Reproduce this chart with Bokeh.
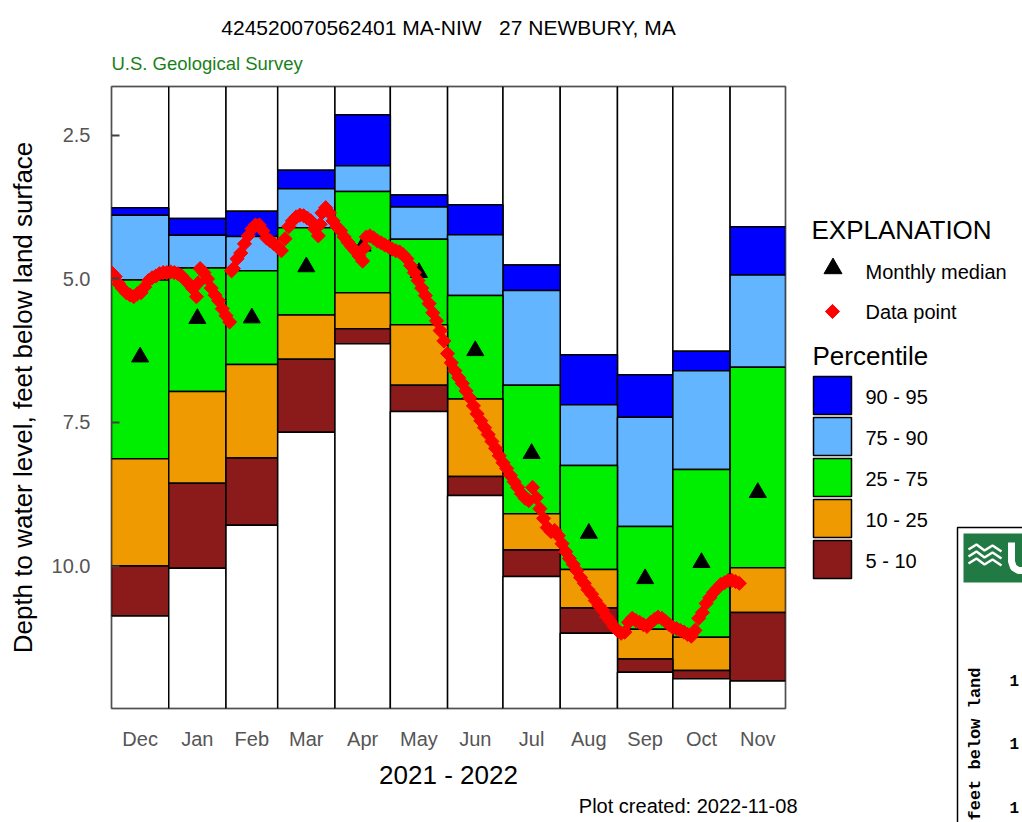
import math
from bokeh.plotting import figure
from bokeh.layouts import row, column
from bokeh.models import (ColumnDataSource, FixedTicker, Range1d, PrintfTickFormatter, Title)
from bokeh.core.properties import value
from bokeh.embed import file_html
from bokeh.resources import INLINE

# ---------------- data ----------------
months = ["Dec", "Jan", "Feb", "Mar", "Apr", "May", "Jun", "Jul", "Aug", "Sep", "Oct", "Nov"]
month_days = [31, 31, 28, 31, 30, 31, 30, 31, 31, 30, 31, 30]

# percentile depths (feet below land surface)
p95 = [3.76, 3.95, 3.82, 3.11, 2.14, 3.54, 3.71, 4.76, 6.32, 6.67, 6.26, 4.09]
p90 = [3.89, 4.24, 4.26, 3.43, 3.03, 3.75, 4.23, 5.20, 7.19, 7.41, 6.60, 4.93]
p75 = [5.02, 4.81, 4.86, 4.11, 3.48, 4.31, 5.29, 6.85, 8.25, 9.31, 8.32, 6.54]
p25 = [8.13, 6.96, 6.49, 5.63, 5.24, 5.80, 7.09, 9.09, 10.06, 11.10, 11.24, 10.03]
p10 = [10.00, 8.56, 8.12, 6.40, 5.87, 6.85, 8.44, 9.72, 10.73, 11.62, 11.82, 10.81]
p5 = [10.87, 10.04, 9.29, 7.67, 6.13, 7.31, 8.77, 10.18, 11.17, 11.85, 11.96, 12.00]
median = [6.36, 5.69, 5.68, 4.79, 4.43, 4.89, 6.25, 8.04, 9.43, 10.22, 9.94, 8.72]

# data points: days since 2021-12-01, depth
pt_day = [0, 2, 4, 6, 8, 10, 12, 14, 16, 18, 20, 22, 24, 26, 28, 30,
          32, 34, 36, 38, 40, 42, 44, 46, 47, 48, 50, 52, 54, 56, 58, 60, 62, 64,
          65, 66, 68, 70, 72, 74, 76, 78, 80, 82, 84, 86, 88,
          90, 92, 94, 96, 98, 100, 102, 104, 106, 108, 110, 112, 113, 114, 116, 118,
          120, 122, 124, 126, 128, 130, 132, 134, 136, 137, 138, 140, 142, 144, 146, 148,
          150, 152, 154, 156, 158, 160, 162, 164, 166, 168, 170, 172, 174, 176, 178, 180,
          182, 184, 186, 188, 190, 192, 194, 196, 198, 200, 202, 204, 206, 208, 210,
          212, 214, 216, 218, 220, 222, 224, 226, 228, 230, 232, 234, 236, 238, 240,
          242, 244, 246, 248, 250, 252, 254, 256, 258, 260, 262, 264, 266, 268, 270, 272,
          274, 276, 278, 280, 282, 284, 286, 288, 290, 292, 294, 296, 298, 300, 302,
          304, 306, 308, 310, 312, 314, 316, 318, 320, 322, 324, 326, 328, 330, 332,
          334, 336, 338, 340]
pt_depth = [4.89, 4.96, 5.09, 5.17, 5.24, 5.28, 5.31, 5.26, 5.24, 5.14, 5.03, 4.98, 4.95, 4.91, 4.89, 4.89,
            4.88, 4.89, 4.91, 4.95, 5.02, 5.09, 5.17, 5.31, 5.07, 4.82, 4.89, 5.00, 5.16, 5.28, 5.38, 5.52, 5.64, 5.75,
            4.86, 4.82, 4.65, 4.55, 4.39, 4.25, 4.13, 4.06, 4.06, 4.16, 4.29, 4.34, 4.39,
            4.44, 4.51, 4.30, 4.09, 3.99, 3.92, 3.89, 3.90, 3.94, 3.99, 4.13, 4.25, 4.05, 3.85, 3.76, 3.85,
            3.99, 4.09, 4.16, 4.27, 4.36, 4.44, 4.51, 4.60, 4.69, 4.46, 4.27, 4.25, 4.29, 4.34, 4.37, 4.41,
            4.44, 4.48, 4.51, 4.53, 4.58, 4.65, 4.77, 4.89, 5.03, 5.16, 5.29, 5.43, 5.59, 5.73, 5.90, 6.08,
            6.30, 6.46, 6.60, 6.72, 6.82, 6.95, 7.07, 7.21, 7.35, 7.47, 7.59, 7.71, 7.83, 7.95, 8.08,
            8.20, 8.30, 8.42, 8.53, 8.63, 8.74, 8.82, 8.86, 8.63, 8.81, 9.00, 9.17, 9.33, 9.40, 9.38,
            9.47, 9.61, 9.75, 9.87, 9.97, 10.08, 10.20, 10.30, 10.41, 10.49, 10.60, 10.69, 10.77, 10.88, 10.96, 11.05,
            11.12, 11.17, 11.15, 10.98, 10.91, 10.95, 10.98, 11.02, 11.05, 10.98, 10.93, 10.89, 10.91, 10.96, 11.02,
            11.07, 11.09, 11.12, 11.15, 11.19, 11.22, 11.12, 10.91, 10.81, 10.65, 10.55, 10.46, 10.39, 10.32, 10.29,
            10.25, 10.25, 10.27, 10.30]

y_ticks = [2.5, 5.0, 7.5, 10.0]
band_labels = ["90 - 95", "75 - 90", "25 - 75", "10 - 25", "5 - 10"]
legend_marker_labels = ["Monthly median", "Data point"]
title_text = "424520070562401 MA-NIW\u00a0\u00a0\u00a027 NEWBURY, MA"

# ---------------- styling ----------------
FONT = "Liberation Sans"
BLUE, LBLUE, GREEN, ORANGE, DRED = "#0000FF", "#63B5FF", "#00EE00", "#EE9A00", "#8B1A1A"
band_colors = [BLUE, LBLUE, GREEN, ORANGE, DRED]
Y_TOP, Y_BOT = 1.65, 12.48
H = 822
FL, FT, FW, FH = 111, 86, 674, 622
MAIN_W = 805
LEG_W = 1022 - MAIN_W

edges = [0]
for d in month_days:
    edges.append(edges[-1] + d)
left, right = edges[:-1], edges[1:]
centers = [(a + b) / 2 for a, b in zip(left, right)]

p = figure(width=MAIN_W, height=H, output_backend="svg", toolbar_location=None,
           x_range=Range1d(0, edges[-1]), y_range=Range1d(Y_BOT, Y_TOP),
           min_border_left=FL, min_border_right=MAIN_W - FL - FW,
           min_border_top=FT, min_border_bottom=H - FT - FH)
p.grid.visible = False
p.outline_line_color = "#808080"
p.outline_line_width = 2
p.background_fill_color = "white"
p.border_fill_color = "white"

src = ColumnDataSource(dict(left=left, right=right, p95=p95, p90=p90, p75=p75,
                            p25=p25, p10=p10, p5=p5,
                            ytop=[Y_TOP] * 12, ybot=[Y_BOT] * 12))
bands = [("ytop", "p95", "white"), ("p95", "p90", BLUE), ("p90", "p75", LBLUE),
         ("p75", "p25", GREEN), ("p25", "p10", ORANGE), ("p10", "p5", DRED),
         ("p5", "ybot", "white")]
for t, b, c in bands:
    p.quad(left="left", right="right", top=t, bottom=b, source=src,
           fill_color=c, line_color="black", line_width=1.5)

p.scatter(x=centers, y=median, marker="triangle", size=17,
          fill_color="black", line_color="black")
p.scatter(x=pt_day, y=pt_depth, marker="square", angle=math.pi / 4, size=10,
          fill_color="#FF0000", line_color="#FF0000")

# y axis
yax = p.yaxis[0]
yax.ticker = FixedTicker(ticks=y_ticks)
yax.formatter = PrintfTickFormatter(format="%.1f")
yax.major_tick_in = 8
yax.major_tick_out = 0
yax.minor_tick_line_color = None
yax.major_tick_line_color = "#404040"
yax.major_tick_line_width = 2
yax.axis_line_color = None
yax.major_label_text_font = FONT
yax.major_label_text_font_size = "20px"
yax.major_label_text_color = "#555555"
yax.major_label_standoff = 21
yax.axis_label = "Depth to water level, feet below land surface"
yax.axis_label_text_font = FONT
yax.axis_label_text_font_size = "26px"
yax.axis_label_text_font_style = "normal"
yax.axis_label_text_color = "black"
yax.axis_label_standoff = 11

# x axis
xax = p.xaxis[0]
xax.ticker = FixedTicker(ticks=centers)
xax.major_label_overrides = {c: m for c, m in zip(centers, months)}
xax.major_tick_line_color = None
xax.minor_tick_line_color = None
xax.axis_line_color = None
xax.major_label_text_font = FONT
xax.major_label_text_font_size = "20px"
xax.major_label_text_color = "#555555"
xax.major_label_standoff = 13
xax.axis_label = "2021 - 2022"
xax.axis_label_text_font = FONT
xax.axis_label_text_font_size = "26px"
xax.axis_label_text_font_style = "normal"
xax.axis_label_text_color = "black"
xax.axis_label_standoff = 7

# titles (added nearest-first)
p.add_layout(Title(text="U.S. Geological Survey", align="left", text_font=FONT,
                   text_font_size="18.5px", text_font_style="normal",
                   text_color="#1A7F1A", standoff=25), "above")
p.add_layout(Title(text=title_text, align="center",
                   text_font=FONT, text_font_size="21px", text_font_style="normal",
                   text_color="black", standoff=0), "above")
p.add_layout(Title(text="Plot created: 2022-11-08", align="right", offset=-12,
                   text_font=FONT, text_font_size="20px", text_font_style="normal",
                   text_color="black", standoff=0), "below")

# ---------------- legend panel (page-pixel coordinates) ----------------
lg = figure(width=LEG_W, height=H, output_backend="svg", toolbar_location=None,
            x_range=Range1d(MAIN_W, 1022), y_range=Range1d(H, 0),
            x_axis_location=None, y_axis_location=None, min_border=0)
lg.grid.visible = False
lg.outline_line_color = None
lg.background_fill_color = "white"
lg.border_fill_color = "white"

lg.text(x=[811, 812], y=[229, 355], text=["EXPLANATION", "Percentile"],
        text_font=value(FONT), text_font_size="26px", text_color="black",
        text_baseline="middle", text_align="left")
lg.scatter(x=[832.5], y=[268], marker="triangle", size=18, fill_color="black", line_color="black")
lg.scatter(x=[832], y=[311], marker="square", angle=math.pi / 4, size=10,
           fill_color="#FF0000", line_color="#FF0000")
lg.text(x=[865, 865], y=[271, 311], text=legend_marker_labels,
        text_font=value(FONT), text_font_size="20px", text_color="black",
        text_baseline="middle", text_align="left")
sw_top = [376 + 41 * i for i in range(5)]
lg.quad(left=[813] * 5, right=[851] * 5, top=sw_top, bottom=[t + 38 for t in sw_top],
        fill_color=band_colors, line_color="black", line_width=1.5)
lg.text(x=[865] * 5, y=[t + 20 for t in sw_top], text=band_labels,
        text_font=value(FONT), text_font_size="20px", text_color="black",
        text_baseline="middle", text_align="left")

# partially visible second panel (bottom right)
lg.quad(left=[957], right=[1040], top=[527], bottom=[840],
        fill_color="white", line_color="black", line_width=1.5)
lg.quad(left=[963], right=[1040], top=[533], bottom=[582],
        fill_color="#217A43", line_color=None)
for dy in (0, 7, 14):
    lg.line(x=[968, 976, 984, 992, 1001], y=[549 + dy, 544 + dy, 550 + dy, 545 + dy, 551 + dy],
            line_color="white", line_width=2.5)
lg.line(x=[1011, 1011, 1013, 1018, 1024], y=[542, 561, 567, 570, 570],
        line_color="white", line_width=7)
lg.text(x=[975], y=[667], text=["feet below land"], angle=math.pi / 2,
        text_font=value("Liberation Mono"), text_font_size="17px", text_font_style="bold",
        text_color="black", text_align="right", text_baseline="middle")
lg.text(x=[1009] * 3, y=[680, 743, 807], text=["1", "1", "1"],
        text_font=value("Liberation Mono"), text_font_size="16px", text_font_style="bold",
        text_color="black", text_align="left", text_baseline="middle")

layout = row(p, column(lg, spacing=0), spacing=0)
open("out.html", "w").write(file_html(layout, INLINE))
